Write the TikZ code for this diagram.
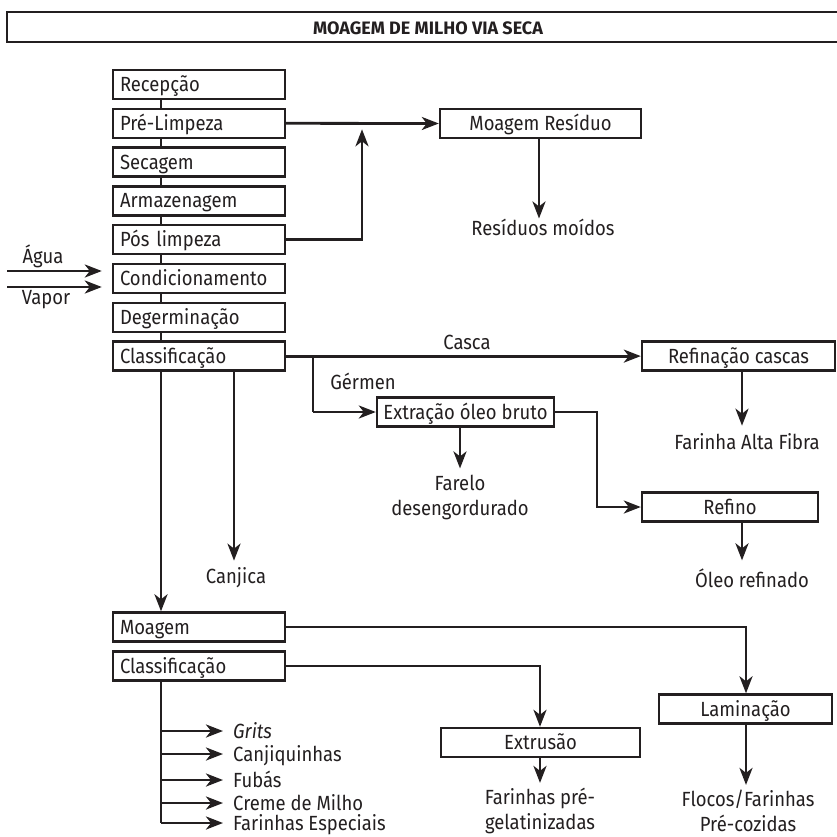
\documentclass[tikz,border=0pt]{standalone}
\usepackage{fontspec}
\setmainfont{Fira Sans}
\newfontfamily\bodyff{Fira Sans}[FakeStretch=0.9]
\usetikzlibrary{arrows.meta}
\definecolor{ink}{HTML}{231F20}
\newcommand{\bodyfont}{\bodyff\fontsize{20.5}{25}\selectfont}
\newcommand{\titlefont}{\fontsize{18}{20}\selectfont\bfseries}
\begin{document}
\begin{tikzpicture}[x=1pt,y=-1pt,
  box/.style={draw=ink, line width=2.4pt, minimum height=29pt, inner sep=0pt,
    text height=15pt, text depth=1pt, text=ink, font=\bodyfont},
  lbox/.style={box, minimum width=172pt, text width=158pt, align=left},
  cbox/.style={box, align=center},
  con/.style={draw=ink, line width=2.8pt},
  arr/.style={con, -{Stealth[length=17pt,width=13pt,inset=5pt]}},
  lbl/.style={inner sep=0pt, text=ink, font=\bodyfont, align=center},
  item/.style={inner sep=0pt, text=ink, font=\bodyfont, anchor=west, text height=15pt, text depth=1pt},
]
\useasboundingbox (0,0) rectangle (837,836);
\fill[white] (0,0) rectangle (837,836);

% title frame
\draw[ink, line width=1.6pt] (837,12) -- (7,12) -- (7,42) -- (837,42);
\node[inner sep=0pt, text=ink, font=\titlefont] (title) at (428,28) {MOAGEM DE MILHO VIA SECA};

% left column
\node[lbox] (rec)  at (199,84.5)  {Recepção};
\node[lbox] (pre)  at (199,123.3) {Pré-Limpeza};
\node[lbox] (sec)  at (199,162.1) {Secagem};
\node[lbox] (arm)  at (199,200.9) {Armazenagem};
\node[lbox] (pos)  at (199,239.7) {Pós limpeza};
\node[lbox] (cond) at (199,278.5) {Condicionamento};
\node[lbox] (deg)  at (199,317.3) {Degerminação};
\node[lbox] (cla)  at (199,356.1) {Classificação};
\node[lbox] (moa)  at (199,627)   {Moagem};
\node[lbox] (cla2) at (199,666)   {Classificação};

\coordinate (sx) at (161,0);
\foreach \a/\b in {rec/pre,pre/sec,sec/arm,arm/pos,pos/cond,cond/deg,deg/cla}
  \draw[con] (\a.south -| sx) -- (\b.north -| sx);

% right boxes
\node[cbox, minimum width=201pt] (mres) at (540.5,123.5) {Moagem Resíduo};
\node[cbox, minimum width=193pt] (refc) at (738.5,356)   {Refinação cascas};
\node[cbox, minimum width=177pt] (extr) at (465.5,412)   {Extração óleo bruto};
\node[cbox, minimum width=176pt] (refi) at (730,507)     {Refino};
\node[cbox, minimum width=173pt] (lami) at (745.5,709)   {Laminação};
\node[cbox, minimum width=199pt] (extru) at (540.5,742.5) {Extrusão};

% text results
\node[lbl] (resm) at (543,227) {Resíduos moídos};
\node[lbl] (canj) at (236,578) {Canjica};
\node[lbl] (faf)  at (747,442) {Farinha Alta Fibra};
\node[lbl] (far)  at (460,497) {Farelo\\desengordurado};
\node[lbl] (oleo) at (752,578) {Óleo refinado};
\node[lbl] (fpg)  at (540,811) {Farinhas pré-\\gelatinizadas};
\node[lbl] (flo)  at (748,811) {Flocos/Farinhas\\Pré-cozidas};
\node[lbl] (agua) at (43,256) {Água};
\node[lbl] (vap)  at (46,300) {Vapor};
\node[lbl] (casca) at (467,342) {Casca};
\node[lbl] (germ) at (363,381) {Gérmen};

% water / vapour inputs
\coordinate (w1) at (7,271);
\coordinate (w2) at (7,287);
\draw[arr, shorten >=10pt] (w1) -- (cond.west |- w1);
\draw[arr, shorten >=10pt] (w2) -- (cond.west |- w2);

% residue branch
\coordinate (j1) at (362,123.3);
\draw[arr] (pre.east) -- (mres.west);
\draw[arr, shorten >=6pt] (pos.east) -| (j1);
\coordinate (rx) at (539,0);
\draw[arr] (mres.south -| rx) -- (rx |- resm.north);

% classification branches
\coordinate (cx) at (234,0);
\draw[arr] (cla.south -| sx) -- (moa.north -| sx);
\draw[arr, shorten >=7pt] (cla.south -| cx) -- (cx |- canj.north);
\draw[arr] (cla.east) -- (refc.west |- cla.east);
\coordinate (gx) at (313,0);
\draw[con] (gx |- cla.east) -- (gx |- extr.west);
\draw[arr] (gx |- extr.west) -- (extr.west);
\coordinate (ex) at (460,0);
\draw[arr, shorten >=6pt] (extr.south -| ex) -- (ex |- far.north);
\coordinate (ox) at (597,0);
\draw[arr] (extr.east) -- (extr.east -| ox) |- (refi.west);
\coordinate (fx) at (742,0);
\draw[arr, shorten >=8pt] (refc.south -| fx) -- (fx |- faf.north);
\draw[arr, shorten >=8pt] (refi.south -| fx) -- (fx |- oleo.north);

% milling branches
\coordinate (lx) at (746,0);
\draw[arr] (moa.east) -| (lami.north -| lx);
\coordinate (tx) at (540,0);
\draw[arr] (cla2.east) -| (extru.north -| tx);
\draw[arr, shorten >=5pt] (extru.south -| tx) -- (tx |- fpg.north);
\draw[arr, shorten >=5pt] (lami.south -| lx) -- (lx |- flo.north);

% product list
\node[item] (i1) at (233,731)   {\itshape Grits};
\node[item] (i2) at (233,754)   {Canjiquinhas};
\node[item] (i3) at (233,780)   {Fubás};
\node[item] (i4) at (233,803)   {Creme de Milho};
\node[item] (i5) at (233,823)   {Farinhas Especiais};
\draw[con] (cla2.south -| sx) -- (sx |- i5.west);
\foreach \n in {i1,i2,i3,i4,i5}
  \draw[arr, shorten >=10pt] (sx |- \n.west) -- (\n.west);
\end{tikzpicture}
\end{document}
